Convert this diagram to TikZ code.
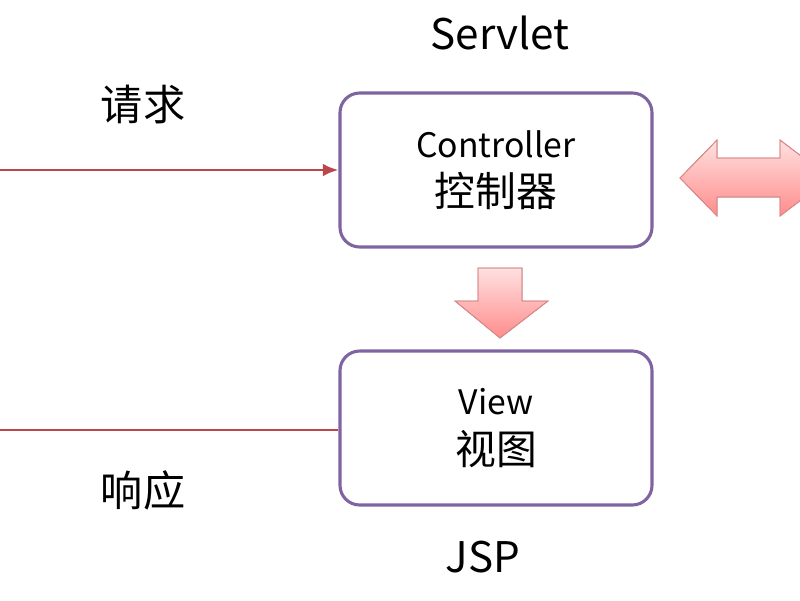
\documentclass[tikz,border=0pt]{standalone}
\usepackage{fontspec}
\setmainfont{Noto Sans CJK SC}
\usetikzlibrary{positioning,arrows.meta}
\definecolor{linered}{HTML}{B9474B}
\definecolor{boxpurple}{HTML}{8064A2}
\definecolor{arrowedge}{HTML}{D98A8A}
\tikzset{
  box/.style={draw=boxpurple,line width=2.2pt,rounded corners=14pt,fill=white,
    minimum width=312*0.025cm,minimum height=154*0.025cm,align=center,
    font=\fontsize{24}{35}\selectfont},
  title/.style={font=\fontsize{30}{32}\selectfont},
  flow/.style={draw=linered,line width=2pt},
  block/.style={draw=arrowedge,line width=0.6pt,top color=red!12,bottom color=red!45}
}
\begin{document}
\begin{tikzpicture}[x=0.025cm,y=-0.025cm,>={Latex[length=11pt,width=9pt]}]
\useasboundingbox (0,0) rectangle (800,600);
\node[box] (ctrl) at (496,170) {Controller\\{\fontsize{29}{30}\selectfont 控制器}};
\node[box] (view) at (496,428) {View\\{\fontsize{29}{30}\selectfont 视图}};
\node[title] (servlet) at (500,33) {Servlet};
\node[title] (jsp) at (483,557) {JSP};
\node[title] (req) at (143,105) {请求};
\node[title] (resp) at (143,490) {响应};
\coordinate (inL) at (0,170);
\coordinate (outL) at (0,430);
\draw[flow,->] (inL) -- (ctrl.west);
\draw[flow] (view.west |- outL) -- (outL);
% block arrows
\fill[block] (478,268)--(522,268)--(522,301)--(548,301)--(500,338)--(455,301)--(478,301)--cycle;
\fill[block] (680,178)--(717,140)--(717,158)--(780,158)--(780,140)--(830,178)--(780,216)--(780,197)--(717,197)--(717,216)--cycle;
\draw[draw=arrowedge,line width=0.6pt] (478,268)--(522,268)--(522,301)--(548,301)--(500,338)--(455,301)--(478,301)--cycle;
\draw[draw=arrowedge,line width=0.6pt] (680,178)--(717,140)--(717,158)--(780,158)--(780,140)--(830,178)--(780,216)--(780,197)--(717,197)--(717,216)--cycle;
\end{tikzpicture}
\end{document}
